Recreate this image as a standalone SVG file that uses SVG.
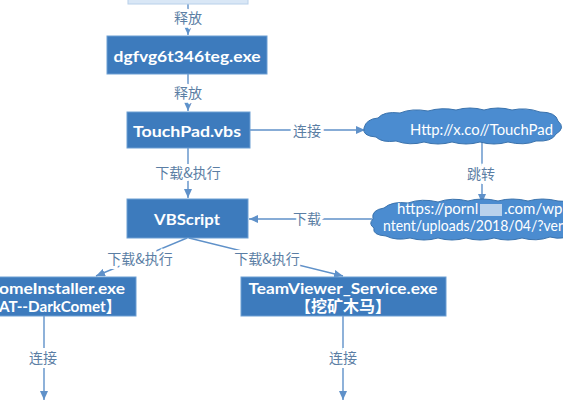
<svg xmlns="http://www.w3.org/2000/svg" width="563" height="400" viewBox="0 0 563 400">
<style>
.box{fill:#3d7bbd;stroke:#6d9fd3;stroke-width:1}
.cloud{fill:#4b8cd0;stroke:#3b73ad;stroke-width:1}
.bt{font-family:Lato,"Liberation Sans","Noto Sans CJK SC",sans-serif;font-weight:bold;font-size:16px;fill:#fff;text-anchor:middle;dominant-baseline:central}
.ct{font-family:Lato,"Liberation Sans",sans-serif;font-size:15px;fill:#fff}
.lbl{font-family:"Noto Sans CJK SC","Noto Sans",sans-serif;font-size:14px;fill:#5b7ea4;text-anchor:middle;dominant-baseline:central;stroke:#fff;stroke-width:6;paint-order:stroke}
.ln{stroke:#5f91c9;stroke-width:1.4;fill:none;marker-end:url(#ah)}
</style>
<defs>
<marker id="ah" markerUnits="userSpaceOnUse" markerWidth="9" markerHeight="8" refX="9" refY="4" orient="auto">
<path d="M0,0 L9,4 L0,8 z" fill="#5f91c9"/>
</marker>
</defs>
<rect width="563" height="400" fill="#fff"/>
<g id="connectors">
<path class="ln" d="M188,0 L188,35"/>
<path class="ln" d="M188,74 L188,111"/>
<path class="ln" d="M250,130 L365,130"/>
<path class="ln" d="M482,142 L482,203"/>
<path class="ln" d="M372,219 L249,219"/>
<path class="ln" d="M188,148 L188,198"/>
<path class="ln" d="M187,238 L96,276"/>
<path class="ln" d="M189,238 L343,276"/>
<path class="ln" d="M44,316 L44,400"/>
<path class="ln" d="M343,316 L343,400"/>
<text class="lbl" x="188" y="17">释放</text>
<text class="lbl" x="188" y="92">释放</text>
<text class="lbl" x="307" y="130">连接</text>
<text class="lbl" x="481" y="173">跳转</text>
<text class="lbl" x="307" y="218">下载</text>
<text class="lbl" x="188" y="172">下载&amp;执行</text>
<text class="lbl" x="140" y="258">下载&amp;执行</text>
<text class="lbl" x="267" y="258">下载&amp;执行</text>
<text class="lbl" x="43" y="357">连接</text>
<text class="lbl" x="343" y="357">连接</text>
</g>
<g id="n-top">
<rect x="128" y="-20" width="120" height="24" fill="#d9e7f6" stroke="#b8d0ea" stroke-width="1"/>
</g>
<g id="n-dgf">
<rect class="box" x="107" y="36" width="160" height="38"/>
<text class="bt" x="187" y="55" textLength="147" lengthAdjust="spacingAndGlyphs">dgfvg6t346teg.exe</text>
</g>
<g id="n-touchpad">
<rect class="box" x="127" y="112" width="123" height="36"/>
<text class="bt" x="187" y="130" textLength="108" lengthAdjust="spacingAndGlyphs">TouchPad.vbs</text>
</g>
<g id="n-vbscript">
<rect class="box" x="127" y="199" width="121" height="39"/>
<text class="bt" x="187" y="218" textLength="66" lengthAdjust="spacingAndGlyphs">VBScript</text>
</g>
<g id="n-chrome">
<rect class="box" x="-10" y="277" width="146" height="39"/>
<text class="bt" x="125" y="287" style="text-anchor:end" textLength="126" lengthAdjust="spacingAndGlyphs">omeInstaller.exe</text>
<text class="bt" x="121" y="305" style="text-anchor:end" textLength="122" lengthAdjust="spacingAndGlyphs">AT--DarkComet】</text>
</g>
<g id="n-teamviewer">
<rect class="box" x="241" y="277" width="205" height="39"/>
<text class="bt" x="343" y="287" textLength="189" lengthAdjust="spacingAndGlyphs">TeamViewer_Service.exe</text>
<text class="bt" x="343" y="305" font-size="15">【挖矿木马】</text>
</g>
<g id="n-cloud1">
<path class="cloud" d="M364,128 Q366,119 378,118 Q384,111 400,113 Q412,108 428,111 Q442,107 456,110 Q470,106 484,110 Q498,106 512,110 Q526,107 540,112 Q556,112 558,121 Q566,128 556,134 Q552,142 536,141 Q524,146 508,142 Q494,146 480,142 Q466,146 452,142 Q438,146 424,142 Q410,146 396,141 Q382,143 376,137 Q362,136 364,128 Z"/>
<text class="ct" x="410" y="135" textLength="143" lengthAdjust="spacingAndGlyphs">Http://x.co//TouchPad</text>
</g>
<g id="n-cloud2">
<path class="cloud" d="M373,219 Q371,210 384,208 Q392,201 408,203 Q422,198 438,202 Q452,197 468,201 Q482,197 498,201 Q512,197 528,201 Q542,197 558,201 Q572,200 577,212 L577,232 Q564,241 550,237 Q536,242 522,238 Q508,242 494,238 Q480,242 466,238 Q452,242 438,238 Q424,242 410,238 Q396,241 386,236 Q372,235 374,228 Q368,224 373,219 Z"/>
<text class="ct" x="397" y="214">https://pornl</text>
<rect x="480" y="204" width="22" height="12" fill="#c4d8ee" opacity="0.9"/>
<text class="ct" x="504" y="214">.com/wp</text>
<text class="ct" x="383" y="231" textLength="180" lengthAdjust="spacingAndGlyphs">ntent/uploads/2018/04/?ver</text>
</g>
</svg>
